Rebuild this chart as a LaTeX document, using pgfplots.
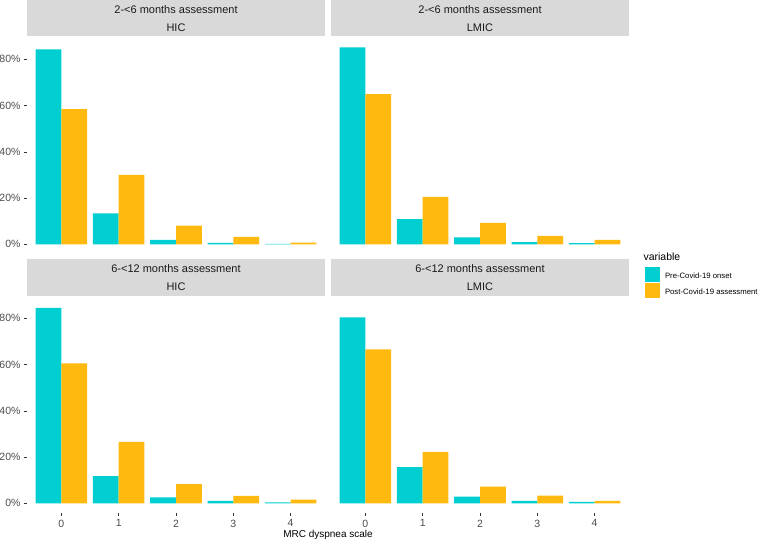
\documentclass[border=0pt]{standalone}
\usepackage{pgfplots}
\usepackage{pgfplotstable}
\pgfplotsset{compat=1.18}
\usepackage{fontspec}
\setmainfont{Liberation Sans}
\definecolor{cyanbar}{HTML}{00CED1}
\definecolor{orangebar}{HTML}{FFB90F}
\definecolor{stripgray}{HTML}{D9D9D9}
\definecolor{tickgray}{HTML}{4D4D4D}
\definecolor{striptext}{HTML}{1A1A1A}
\definecolor{tickmark}{HTML}{333333}

\pgfplotstableread{
x pre post
0 84.3 58.5
1 13.4 30.0
2 1.9 8.1
3 0.6 3.2
4 0.15 0.7
}\earlyHIC
\pgfplotstableread{
x pre post
0 85.2 64.9
1 10.9 20.5
2 3.0 9.3
3 1.0 3.7
4 0.5 1.9
}\earlyLMIC
\pgfplotstableread{
x pre post
0 84.5 60.5
1 11.8 26.6
2 2.6 8.3
3 1.1 3.2
4 0.4 1.6
}\lateHIC
\pgfplotstableread{
x pre post
0 80.4 66.6
1 15.6 22.2
2 2.9 7.2
3 1.1 3.3
4 0.6 1.1
}\lateLMIC

\pgfplotsset{
  panel/.style={
    scale only axis, width=298pt, height=217.1pt, anchor=south west,
    xmin=-0.6, xmax=4.6, ymin=-4.27, ymax=89.6,
    ybar, bar width=0.45,
    axis lines=left, axis line style={draw=none,-},
    tick align=outside, major tick length=3pt,
    tick style={tickmark, line width=0.5pt},
    xtick={0,1,2,3,4}, xticklabels={0,1,2,3,4},
    ytick={0,20,40,60,80}, yticklabels={0\%,20\%,40\%,60\%,80\%},
    ticklabel style={font=\fontsize{10.5}{12}\selectfont, text=tickgray},
    /pgf/number format/assume math mode=true,
    area legend,
    legend image code/.code={\fill[#1] (0pt,-4.8pt) rectangle (15pt,10.2pt);},
  },
  pre/.style={fill=cyanbar, draw=none, bar shift=-0.225},
  post/.style={fill=orangebar, draw=none, bar shift=0.225},
}

\begin{document}
\begin{tikzpicture}
\path[use as bounding box] (0pt,0pt) rectangle (763pt,540pt);

% strips
\fill[stripgray] (27pt,503.5pt) rectangle (325pt,540pt);
\fill[stripgray] (331pt,503.5pt) rectangle (629pt,540pt);
\fill[stripgray] (27pt,244.3pt) rectangle (325pt,281pt);
\fill[stripgray] (331pt,244.3pt) rectangle (629pt,281pt);
\begin{scope}[every node/.style={font=\fontsize{11}{13}\selectfont, text=striptext, inner sep=0pt}]
\node at (176pt,530pt) {2-<6 months assessment};
\node at (176pt,512pt) {HIC};
\node at (480pt,530pt) {2-<6 months assessment};
\node at (480pt,512pt) {LMIC};
\node at (176pt,271.7pt) {6-<12 months assessment};
\node at (176pt,253.3pt) {HIC};
\node at (480pt,271.7pt) {6-<12 months assessment};
\node at (480pt,253.3pt) {LMIC};
\end{scope}

% top left
\begin{axis}[panel, at={(27pt,285.8pt)}, xtick=\empty]
\addplot[pre] table[x=x,y=pre] {\earlyHIC};
\addplot[post] table[x=x,y=post] {\earlyHIC};
\end{axis}

% top right
\begin{axis}[panel, at={(331pt,285.8pt)}, xtick=\empty, ytick=\empty,
  legend style={at={(axis description cs:1.0537,-0.0576)}, anchor=north west,
    draw=none, fill=none, inner sep=0pt, outer sep=0pt,
    font=\fontsize{7.75}{9}\selectfont, row sep=1pt,
    nodes={inner sep=0pt},
    /tikz/every odd column/.append style={column sep=5pt}},
  legend cell align=left]
\addplot[pre] table[x=x,y=pre] {\earlyLMIC};
\addlegendentry{Pre-Covid-19 onset}
\addplot[post] table[x=x,y=post] {\earlyLMIC};
\addlegendentry{Post-Covid-19 assessment}
\end{axis}

% bottom left
\begin{axis}[panel, at={(27pt,26.8pt)}]
\addplot[pre] table[x=x,y=pre] {\lateHIC};
\addplot[post] table[x=x,y=post] {\lateHIC};
\end{axis}

% bottom right
\begin{axis}[panel, at={(331pt,26.8pt)}, ytick=\empty]
\addplot[pre] table[x=x,y=pre] {\lateLMIC};
\addplot[post] table[x=x,y=post] {\lateLMIC};
\end{axis}

\node[anchor=west, inner sep=0pt, font=\fontsize{10.5}{12}\selectfont] at (643.3pt,283.3pt) {variable};
\node[inner sep=0pt, font=\fontsize{10}{12}\selectfont] at (328pt,5pt) {MRC dyspnea scale};
\end{tikzpicture}
\end{document}
